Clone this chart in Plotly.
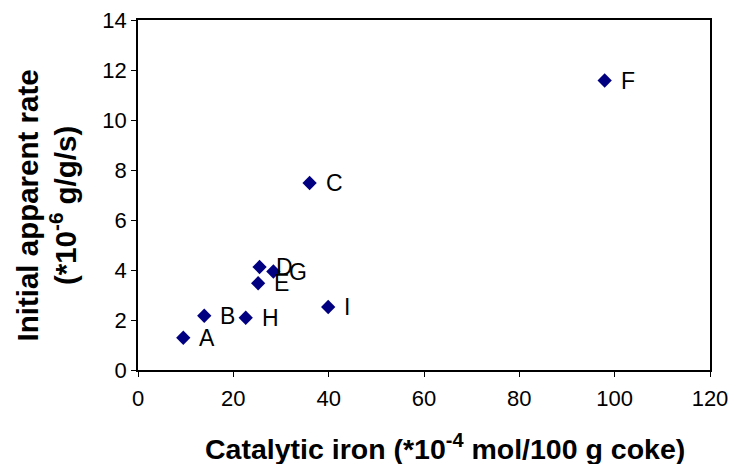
import plotly.graph_objects as go

labels = ["A", "B", "C", "D", "E", "F", "G", "H", "I"]
iron = [9.5, 13.9, 36.0, 25.5, 25.2, 97.9, 28.4, 22.6, 39.9]
rate = [1.29, 2.17, 7.48, 4.12, 3.47, 11.58, 3.94, 2.09, 2.52]

FONT = "Arial, Liberation Sans, sans-serif"

fig = go.Figure()
fig.add_trace(go.Scatter(
    x=iron, y=rate, mode="markers",
    marker=dict(symbol="diamond", size=11, color="#000080"),
    showlegend=False, hoverinfo="skip"))

for lab, xv, yv in zip(labels, iron, rate):
    fig.add_annotation(x=xv, y=yv, text=lab, showarrow=False,
                       xanchor="left", yanchor="middle", xshift=14,
                       font=dict(family=FONT, size=23, color="black"))

# axis titles
fig.add_annotation(xref="paper", yref="paper", x=0.537, y=0, yshift=-77,
                   xanchor="center", yanchor="middle", showarrow=False,
                   text="<b>Catalytic iron (*10<sup>-4</sup> mol/100 g coke)</b>",
                   font=dict(family=FONT, size=28.5, color="black"))
fig.add_annotation(xref="paper", yref="paper", x=0, y=0.47, xshift=-92,
                   xanchor="center", yanchor="middle", showarrow=False,
                   textangle=-90,
                   text="<b>Initial apparent rate<br>(*10<sup>-6</sup> g/g/s)</b>",
                   font=dict(family=FONT, size=29.5, color="black"))

axis_common = dict(showline=True, linecolor="black", linewidth=1.8, mirror=True,
                   ticks="outside", ticklen=5, tickcolor="black", tickwidth=1,
                   showgrid=False, zeroline=False, automargin=False,
                   tickfont=dict(family=FONT, size=22, color="black"))

fig.update_layout(
    width=730, height=464,
    margin=dict(l=138, r=20, t=20, b=94),
    paper_bgcolor="white", plot_bgcolor="white",
    xaxis=dict(range=[0, 120], dtick=20, ticklabelstandoff=3, **axis_common),
    yaxis=dict(range=[0, 14], dtick=2, ticklabelstandoff=0, **axis_common),
)

fig.write_html("out.html")
